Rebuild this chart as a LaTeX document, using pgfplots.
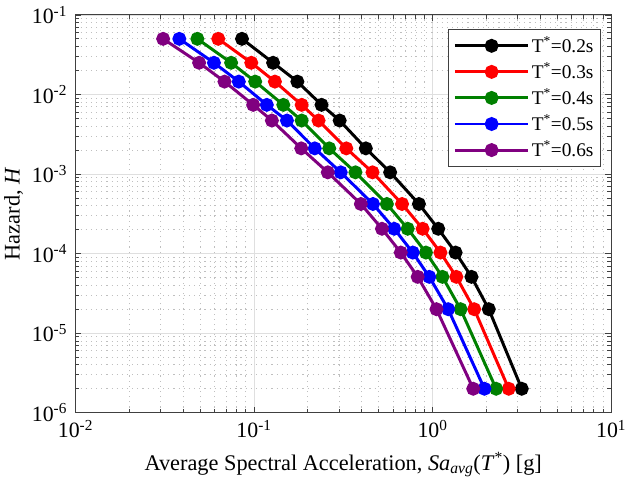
\documentclass[border=0pt]{standalone}
\usepackage{fontspec}
\setmainfont{Liberation Serif}
\usepackage{pgfplots}
\pgfplotsset{compat=1.18}

\definecolor{mgreen}{RGB}{0,128,0}
\definecolor{mpurple}{RGB}{128,0,128}

\begin{document}
\fontsize{19bp}{22bp}\selectfont
\begin{tikzpicture}
\begin{axis}[
    scale only axis,
    width=540bp, height=401bp,
    xmode=log, ymode=log,
    xmin=0.01, xmax=10,
    ymin=1e-6, ymax=0.1,
    xtick={0.01,0.1,1,10},
    xticklabels={10\textsuperscript{-2},10\textsuperscript{-1},10\textsuperscript{0},10\textsuperscript{1}},
    ytick={1e-6,1e-5,1e-4,1e-3,1e-2,1e-1},
    yticklabels={10\textsuperscript{-6},10\textsuperscript{-5},10\textsuperscript{-4},10\textsuperscript{-3},10\textsuperscript{-2},10\textsuperscript{-1}},
    tick label style={font=\fontsize{22bp}{26bp}\selectfont},
    xticklabel style={yshift=-1bp},
    yticklabel style={xshift=-2bp},
    grid=both,
    major grid style={gray!25, line width=0.7bp},
    minor grid style={gray!50, line width=0.7bp, dash pattern=on 1.2bp off 4bp},
    axis line style={black!75, line width=1bp},
    major tick length=6bp, minor tick length=4bp,
    tick style={black!75, line width=0.7bp},
    xlabel={Average Spectral Acceleration, \textit{Sa}\textsubscript{\textit{avg}}(\textit{T}\textsuperscript{*}) [g]},
    ylabel={Hazard, \textit{H}},
    label style={font=\fontsize{22.5bp}{26bp}\selectfont},
    xlabel style={yshift=-2bp},
    ylabel style={yshift=-4bp},
    legend style={at={(0.981,0.965)}, anchor=north east, draw=black!75, line width=1bp,
        font=\fontsize{19.5bp}{23bp}\selectfont, row sep=3bp, inner xsep=5bp, inner ysep=5bp},
    legend cell align=left,
    legend image code/.code={\draw[mark repeat=2, mark phase=2, #1] plot coordinates {(0bp,0bp) (37bp,0bp) (74bp,0bp)};},
    every axis plot/.append style={line width=3bp, mark=*, mark size=5.5bp},
]
\addplot[black, mark options={fill=black}] coordinates {
    (0.0857,0.05) (0.128,0.025) (0.175,0.0145) (0.239,0.0074) (0.302,0.0047)
    (0.423,0.0021) (0.579,0.00105) (0.839,4.2e-4) (1.076,2.05e-4) (1.346,1.03e-4)
    (1.652,5.1e-5) (2.065,2.0e-5) (3.16,2.0e-6)
};
\addlegendentry{T\textsuperscript{*}=0.2s}
\addplot[red, mark options={fill=red}] coordinates {
    (0.0631,0.05) (0.0966,0.025) (0.131,0.0145) (0.185,0.0074) (0.230,0.0047)
    (0.329,0.0021) (0.461,0.00105) (0.675,4.2e-4) (0.880,2.05e-4) (1.107,1.03e-4)
    (1.359,5.1e-5) (1.711,2.0e-5) (2.67,2.0e-6)
};
\addlegendentry{T\textsuperscript{*}=0.3s}
\addplot[mgreen, mark options={fill=mgreen}] coordinates {
    (0.0482,0.05) (0.0745,0.025) (0.1016,0.0145) (0.146,0.0074) (0.185,0.0047)
    (0.264,0.0021) (0.370,0.00105) (0.555,4.2e-4) (0.726,2.05e-4) (0.918,1.03e-4)
    (1.136,5.1e-5) (1.436,2.0e-5) (2.27,2.0e-6)
};
\addlegendentry{T\textsuperscript{*}=0.4s}
\addplot[blue, mark options={fill=blue}] coordinates {
    (0.0382,0.05) (0.0597,0.025) (0.0822,0.0145) (0.118,0.0074) (0.153,0.0047)
    (0.219,0.0021) (0.306,0.00105) (0.464,4.2e-4) (0.610,2.05e-4) (0.775,1.03e-4)
    (0.959,5.1e-5) (1.223,2.0e-5) (1.953,2.0e-6)
};
\addlegendentry{T\textsuperscript{*}=0.5s}
\addplot[mpurple, mark options={fill=mpurple}] coordinates {
    (0.0310,0.05) (0.0493,0.025) (0.0684,0.0145) (0.099,0.0074) (0.126,0.0047)
    (0.184,0.0021) (0.259,0.00105) (0.397,4.2e-4) (0.521,2.05e-4) (0.664,1.03e-4)
    (0.826,5.1e-5) (1.052,2.0e-5) (1.69,2.0e-6)
};
\addlegendentry{T\textsuperscript{*}=0.6s}
\end{axis}
\pgfresetboundingbox
\path (current axis.south west) ++(-76bp,-81bp) rectangle ++(631bp,497bp);
\end{tikzpicture}
\end{document}
